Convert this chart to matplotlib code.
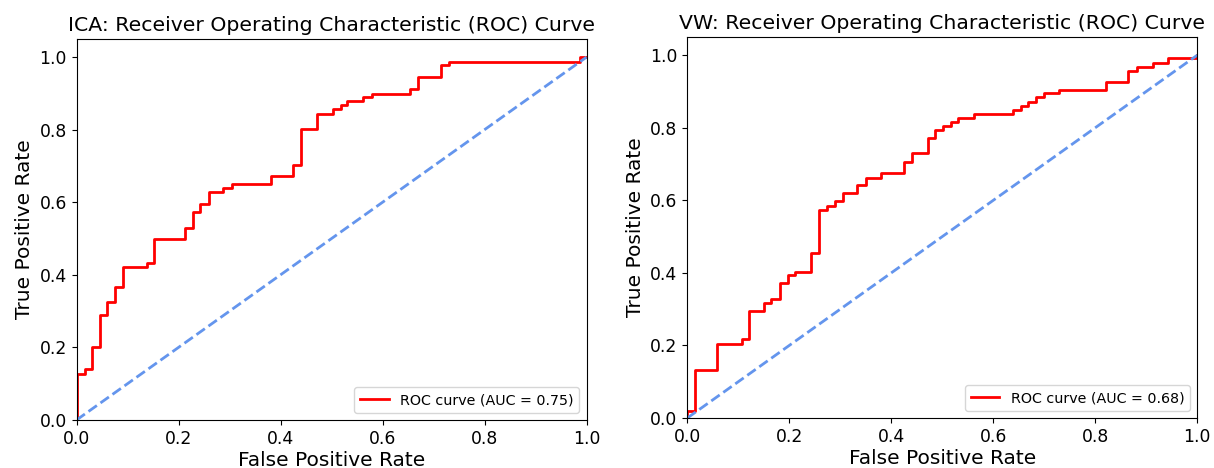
import numpy as np
import matplotlib
matplotlib.use("Agg")
import matplotlib.pyplot as plt

# ROC data (fpr where tpr jumps, tpr after the jump)
ica_fpr = [0, 0, 0.017, 0.030, 0.046, 0.060, 0.076, 0.091, 0.138, 0.151,
           0.213, 0.229, 0.243, 0.259, 0.288, 0.304, 0.381, 0.424, 0.440,
           0.471, 0.503, 0.518, 0.531, 0.562, 0.579, 0.654, 0.670, 0.714,
           0.730, 0.987, 1.0]
ica_tpr = [0, 0.127, 0.140, 0.202, 0.290, 0.326, 0.367, 0.422, 0.432, 0.498,
           0.528, 0.574, 0.595, 0.627, 0.640, 0.650, 0.672, 0.703, 0.803,
           0.844, 0.856, 0.868, 0.879, 0.891, 0.899, 0.911, 0.945, 0.977,
           0.987, 1.0, 1.0]
ica_auc = 0.75

vw_fpr = [0, 0, 0.015, 0.059, 0.107, 0.120, 0.151, 0.165, 0.182, 0.197,
          0.211, 0.242, 0.259, 0.273, 0.290, 0.305, 0.333, 0.350, 0.380,
          0.424, 0.440, 0.471, 0.486, 0.502, 0.517, 0.531, 0.562, 0.638,
          0.654, 0.669, 0.684, 0.699, 0.729, 0.820, 0.865, 0.881, 0.913,
          0.943, 1.0]
vw_tpr = [0, 0.018, 0.131, 0.205, 0.217, 0.295, 0.316, 0.328, 0.372, 0.393,
          0.402, 0.454, 0.573, 0.584, 0.599, 0.621, 0.642, 0.662, 0.674,
          0.706, 0.731, 0.771, 0.794, 0.805, 0.816, 0.827, 0.837, 0.849,
          0.861, 0.872, 0.884, 0.896, 0.904, 0.927, 0.956, 0.968, 0.979,
          0.991, 1.0]
vw_auc = 0.68

panels = [("ICA", ica_fpr, ica_tpr, ica_auc),
          ("VW", vw_fpr, vw_tpr, vw_auc)]

W, H = 1214, 468
fig = plt.figure(figsize=(W / 100, H / 100), dpi=100)
boxes = [(76.5, 39, 510, 381), (687.3, 37, 510, 381)]

for (name, fpr, tpr, auc), (x0, y0, w, h) in zip(panels, boxes):
    ax = fig.add_axes([x0 / W, (H - y0 - h) / H, w / W, h / H])
    ax.plot(fpr, tpr, color="red", lw=2, drawstyle="steps-post",
            label="ROC curve (AUC = %0.2f)" % auc)
    ax.plot([0, 1], [0, 1], color="cornflowerblue", lw=2, linestyle="--")
    ax.set_xlim([0.0, 1.0])
    ax.set_ylim([0.0, 1.05])
    ax.tick_params(labelsize=12.4)
    ax.set_xlabel("False Positive Rate", fontsize=14.5, labelpad=2)
    ax.set_ylabel("True Positive Rate", fontsize=14.5)
    ax.set_title(name + ": Receiver Operating Characteristic (ROC) Curve", fontsize=14.7)
    ax.legend(loc="lower right", fontsize=10.3)

fig.savefig("out.png", dpi=100)
